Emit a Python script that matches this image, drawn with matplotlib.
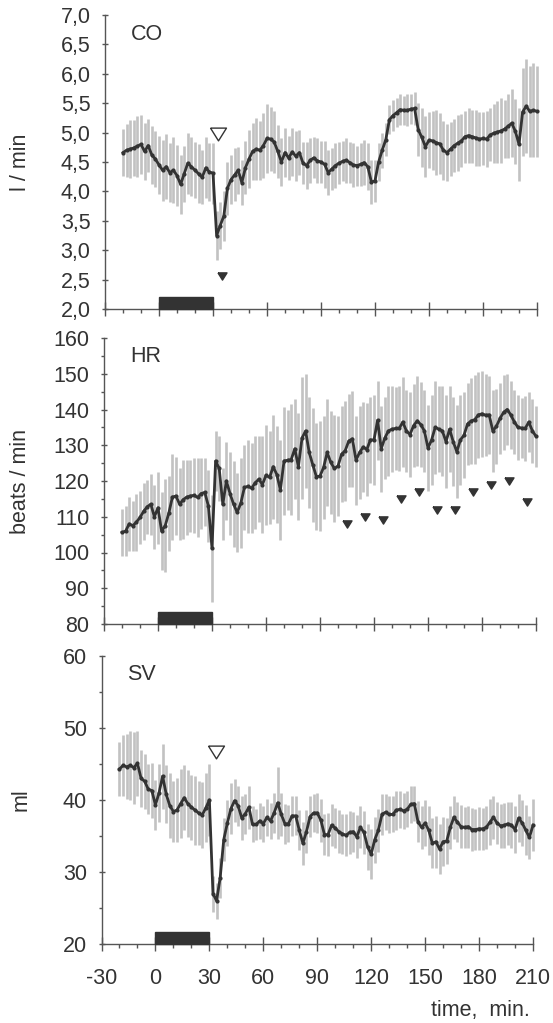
import numpy as np
import matplotlib
matplotlib.use('Agg')
import matplotlib.pyplot as plt
import matplotlib.transforms as mtransforms
from matplotlib.patches import Rectangle
from matplotlib.ticker import MultipleLocator, FuncFormatter

plt.rcParams['font.family'] = ['Liberation Sans', 'DejaVu Sans']
plt.rcParams['font.size'] = 15.5
plt.rcParams['axes.unicode_minus'] = False
plt.rcParams['text.color'] = '#333333'
plt.rcParams['xtick.color'] = '#555555'
plt.rcParams['ytick.color'] = '#555555'
plt.rcParams['xtick.labelcolor'] = '#333333'
plt.rcParams['ytick.labelcolor'] = '#333333'

# time grid, min (every 2 min from -20 to 210)
time = np.arange(-20, 211, 2)

# cardiac output, l/min
co_mean = [4.66, 4.70, 4.72, 4.74, 4.77, 4.80, 4.68, 4.78, 4.62, 4.55,
           4.45, 4.36, 4.42, 4.32, 4.36, 4.27, 4.12, 4.30, 4.48, 4.42,
           4.36, 4.30, 4.24, 4.40, 4.33, 4.31, 3.25, 3.42, 3.58, 4.05,
           4.20, 4.28, 4.36, 4.15, 4.40, 4.55, 4.68, 4.72, 4.70, 4.78,
           4.90, 4.89, 4.84, 4.68, 4.50, 4.66, 4.57, 4.67, 4.60, 4.66,
           4.48, 4.44, 4.53, 4.57, 4.52, 4.50, 4.46, 4.32, 4.38, 4.44,
           4.48, 4.51, 4.53, 4.49, 4.45, 4.44, 4.46, 4.49, 4.42, 4.16,
           4.18, 4.50, 4.70, 4.88, 5.22, 5.29, 5.34, 5.39, 5.38, 5.38,
           5.40, 5.41, 5.05, 4.92, 4.76, 4.87, 4.86, 4.83, 4.81, 4.70,
           4.66, 4.72, 4.78, 4.82, 4.86, 4.93, 4.95, 4.93, 4.91, 4.89,
           4.90, 4.89, 4.96, 4.99, 5.01, 5.03, 5.06, 5.11, 5.16, 5.02,
           4.80, 5.35, 5.45, 5.36, 5.38, 5.36]
co_sd = [0.40, 0.45, 0.50, 0.48, 0.52, 0.50, 0.48, 0.45, 0.50, 0.48,
         0.50, 0.52, 0.55, 0.50, 0.56, 0.52, 0.50, 0.48, 0.52, 0.50,
         0.48, 0.50, 0.46, 0.52, 0.50, 0.52, 0.42, 0.40, 0.42, 0.45,
         0.42, 0.45, 0.40, 0.38, 0.45, 0.50, 0.48, 0.52, 0.50, 0.55,
         0.58, 0.55, 0.52, 0.45, 0.40, 0.42, 0.38, 0.40, 0.42, 0.38,
         0.36, 0.40, 0.38, 0.35, 0.38, 0.36, 0.40, 0.38, 0.35, 0.38,
         0.36, 0.34, 0.38, 0.35, 0.37, 0.34, 0.36, 0.38, 0.40, 0.38,
         0.36, 0.32, 0.30, 0.28, 0.25, 0.26, 0.24, 0.26, 0.25, 0.27,
         0.26, 0.28, 0.45, 0.50, 0.52, 0.48, 0.50, 0.55, 0.52, 0.50,
         0.48, 0.46, 0.45, 0.48, 0.45, 0.44, 0.46, 0.45, 0.48, 0.46,
         0.45, 0.47, 0.45, 0.50, 0.52, 0.55, 0.50, 0.55, 0.58, 0.55,
         0.62, 0.75, 0.80, 0.78, 0.80, 0.78]

# heart rate, beats/min
hr_mean = [105.6, 106.0, 108.0, 107.5, 108.5, 109.8, 111.5, 112.8, 113.5, 110.0,
           112.5, 106.0, 107.5, 111.0, 115.5, 115.8, 113.5, 114.8, 115.5, 115.8,
           116.0, 115.4, 116.5, 116.8, 113.0, 101.2, 125.6, 123.5, 113.5, 120.0,
           116.5, 113.5, 111.2, 113.8, 118.2, 118.5, 118.0, 119.5, 120.5, 119.0,
           121.6, 121.0, 124.0, 121.8, 117.5, 125.6, 125.8, 126.0, 129.0, 124.0,
           132.0, 134.0, 128.0, 124.5, 121.2, 121.4, 123.8, 128.0, 125.2, 123.5,
           124.2, 127.5, 128.5, 131.2, 131.8, 125.8, 128.0, 129.5, 128.8, 131.5,
           131.5, 137.0, 129.0, 132.0, 134.0, 134.5, 134.7, 134.7, 136.5, 134.0,
           133.0, 135.5, 136.8, 135.8, 134.0, 129.2, 131.5, 135.0, 134.5, 134.0,
           131.0, 134.5, 131.0, 128.2, 131.5, 132.8, 136.0, 136.8, 137.2, 138.5,
           138.8, 138.4, 138.5, 134.0, 135.3, 137.5, 139.2, 140.0, 138.5, 136.5,
           135.0, 134.8, 134.7, 136.5, 134.0, 132.5]
hr_sd = [6.5, 7.0, 7.5, 7.0, 8.0, 7.5, 8.0, 7.5, 8.5, 9.0,
         10.0, 11.0, 13.0, 10.5, 12.0, 11.0, 10.0, 11.0, 10.5, 10.0,
         10.5, 11.0, 10.0, 9.5, 10.0, 15.0, 8.5, 9.0, 10.0, 11.0,
         11.5, 12.0, 11.0, 12.5, 12.0, 13.0, 12.5, 13.0, 12.0, 13.5,
         14.0, 13.0, 14.5, 13.5, 14.0, 15.0, 14.0, 15.5, 14.0, 15.0,
         17.0, 16.0, 15.5, 16.0, 15.0, 15.5, 14.5, 15.0, 14.5, 15.0,
         14.0, 13.5, 14.0, 13.0, 13.5, 12.5, 13.0, 12.5, 13.0, 12.0,
         12.5, 11.0, 12.0, 11.5, 12.5, 12.0, 11.5, 12.0, 12.5, 11.5,
         12.0, 11.5, 12.5, 12.0, 11.5, 12.0, 12.5, 13.0, 12.0, 12.5,
         13.0, 12.0, 12.5, 13.0, 12.5, 12.0, 11.5, 12.0, 12.5, 12.0,
         12.0, 11.5, 11.0, 11.5, 10.5, 10.0, 10.5, 10.0, 9.5, 9.0,
         9.0, 8.5, 9.0, 8.5, 9.0, 8.5]

# stroke volume, ml
sv_mean = [44.3, 44.8, 44.6, 44.8, 44.5, 45.1, 43.0, 42.6, 41.5, 41.3,
           39.3, 41.0, 43.3, 40.8, 39.2, 38.4, 38.6, 39.5, 40.3, 39.5,
           39.0, 38.6, 38.2, 37.9, 38.9, 40.0, 27.0, 26.0, 29.2, 34.5,
           36.8, 38.8, 39.9, 39.2, 37.5, 38.1, 39.0, 36.6, 36.6, 37.1,
           36.7, 37.6, 37.1, 38.2, 39.6, 38.0, 36.7, 36.7, 37.8, 37.8,
           35.8, 34.0, 35.6, 37.7, 38.2, 38.2, 37.2, 35.2, 35.2, 36.5,
           36.1, 35.6, 35.3, 35.1, 35.5, 35.6, 34.9, 36.2, 35.5, 33.5,
           32.5, 34.5, 35.8, 38.0, 38.3, 38.0, 38.0, 38.6, 38.7, 38.5,
           38.7, 39.4, 39.5, 37.0, 36.2, 36.8, 35.8, 34.0, 34.2, 33.2,
           34.2, 34.3, 36.2, 37.6, 36.9, 36.3, 36.2, 36.3, 35.9, 35.9,
           36.0, 36.0, 36.2, 36.9, 37.6, 36.8, 36.4, 36.5, 36.7, 36.5,
           35.9, 37.5, 36.8, 35.8, 34.8, 36.5]
sv_sd = [3.8, 4.2, 4.5, 4.8, 5.0, 4.5, 4.0, 3.8, 3.5, 3.8,
         3.5, 4.0, 4.5, 4.0, 4.5, 4.2, 4.5, 4.8, 4.5, 4.6,
         4.5, 4.8, 4.5, 4.6, 4.8, 5.0, 2.5, 2.5, 2.8, 3.0,
         3.2, 3.5, 3.0, 2.8, 3.0, 2.8, 3.0, 2.5, 2.2, 2.5,
         2.5, 2.6, 2.5, 2.8, 5.0, 3.0, 2.8, 2.6, 2.8, 2.7,
         2.8, 3.0, 3.0, 2.8, 2.7, 2.8, 3.0, 2.8, 3.0, 2.9,
         2.8, 3.0, 2.8, 2.9, 3.0, 2.8, 3.0, 2.9, 3.0, 3.2,
         3.5, 3.2, 3.0, 2.8, 2.5, 2.6, 2.5, 2.7, 2.6, 2.5,
         2.5, 2.6, 2.4, 2.8, 3.0, 3.2, 3.4, 3.5, 3.6, 3.5,
         3.4, 3.2, 3.0, 3.0, 2.8, 3.0, 2.8, 2.9, 3.0, 2.8,
         3.0, 2.9, 3.0, 3.2, 3.0, 2.9, 3.0, 3.1, 3.0, 3.2,
         3.2, 3.3, 3.2, 3.5, 3.0, 3.6]

# significance marks
co_open_t, co_open_v = [33], [4.97]
co_sig_t, co_sig_v = [35], [2.56]
hr_sig_t = [105, 115, 125, 135, 145, 155, 165, 175, 185, 195, 205]
hr_sig_v = [108, 110, 109, 115, 117, 112, 112, 117, 119, 120, 114]
sv_open_t, sv_open_v = [33.5], [46.7]

# infusion period
bar_start, bar_end = 0, 30

for arr in (co_mean, co_sd, hr_mean, hr_sd, sv_mean, sv_sd):
    assert len(arr) == len(time), len(arr)

W, H = 553, 1023
fig = plt.figure(figsize=(W / 100, H / 100), dpi=100)


def px_axes(left, right, top, bottom):
    return fig.add_axes([left / W, 1 - bottom / H, (right - left) / W, (bottom - top) / H])


ax1 = px_axes(105, 537, 15, 309)
ax2 = px_axes(104, 536, 338, 624)
ax3 = px_axes(101.5, 533, 656, 944)

tri = [(-1, 0.8), (1, 0.8), (0, -0.8), (-1, 0.8)]
dark = '#333333'
grey = '#c2c2c2'


def panel(ax, mean, sd, ylim, ystep, yminor, name, ylabel, fmt=None):
    mean = np.asarray(mean)
    sd = np.asarray(sd)
    ax.vlines(time, mean - sd, mean + sd, color=grey, lw=1.9, zorder=1, clip_on=False)
    ax.plot(time, mean, color=dark, lw=2.0, marker='o', ms=2.0, zorder=3, clip_on=False)
    ax.set_xlim(-30, 210)
    ax.set_ylim(*ylim)
    for s in ('top', 'right'):
        ax.spines[s].set_visible(False)
    for s in ('left', 'bottom'):
        ax.spines[s].set_color('#555555')
        ax.spines[s].set_linewidth(1.0)
    ax.xaxis.set_major_locator(MultipleLocator(30))
    ax.xaxis.set_minor_locator(MultipleLocator(10))
    ax.yaxis.set_major_locator(MultipleLocator(ystep))
    if yminor:
        ax.yaxis.set_minor_locator(MultipleLocator(yminor))
    else:
        ax.yaxis.set_minor_locator(plt.NullLocator())
    if fmt:
        ax.yaxis.set_major_formatter(FuncFormatter(fmt))
    ax.tick_params(axis='x', which='major', direction='inout', length=10, width=1, pad=12)
    ax.tick_params(axis='x', which='minor', direction='out', length=3, width=1)
    ax.tick_params(axis='y', which='major', direction='inout', length=5, width=1, pad=8)
    ax.tick_params(axis='y', which='minor', direction='out', length=2, width=1)
    trans = mtransforms.blended_transform_factory(ax.transData, ax.transAxes)
    h = 12.5 / ax.bbox.height
    ax.add_patch(Rectangle((bar_start, 0), bar_end - bar_start, h, transform=trans,
                           color=dark, zorder=4, clip_on=False))
    ax.text(0.06, 0.915, name, transform=ax.transAxes, va='baseline', ha='left')
    ax.set_facecolor('none')
    bb = ax.get_position()
    fig.text(21 / W, bb.y0 + bb.height / 2, ylabel, rotation=90, ha='center', va='center')


panel(ax1, co_mean, co_sd, (2.0, 7.0), 0.5, None, 'CO', 'l / min',
      fmt=lambda v, p: f'{v:.1f}'.replace('.', ','))
panel(ax2, hr_mean, hr_sd, (80, 160), 10, 5, 'HR', 'beats / min')
panel(ax3, sv_mean, sv_sd, (20, 60), 10, 5, 'SV', 'ml')

ax1.plot(co_open_t, co_open_v, linestyle='none', marker=tri, ms=11.5,
         mfc='white', mec=dark, mew=1.0, zorder=5)
ax1.plot(co_sig_t, co_sig_v, linestyle='none', marker=tri, ms=6.5, color=dark, zorder=5)
ax2.plot(hr_sig_t, hr_sig_v, linestyle='none', marker=tri, ms=6.5, color=dark, zorder=5)
ax3.plot(sv_open_t, sv_open_v, linestyle='none', marker=tri, ms=11.5,
         mfc='white', mec=dark, mew=1.0, zorder=5)

ax1.tick_params(axis='x', labelbottom=False)
ax2.tick_params(axis='x', labelbottom=False)

fig.text(530 / W, 1 - 1016 / H, 'time,  min.', ha='right', va='baseline')

fig.savefig('out.png', dpi=100, facecolor='white')
